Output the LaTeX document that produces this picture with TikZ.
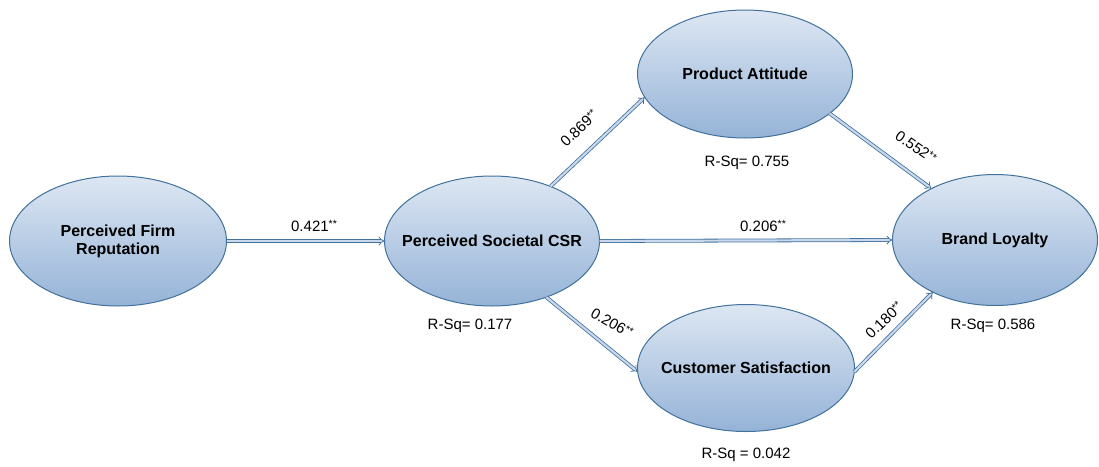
\documentclass[tikz,border=0pt]{standalone}
\usepackage{fontspec}
\setmainfont{Liberation Sans}
\usetikzlibrary{shapes.geometric,arrows.meta}
\definecolor{edgec}{HTML}{41719C}
\definecolor{topc}{HTML}{DDE7F3}
\definecolor{botc}{HTML}{95B3D7}
\definecolor{shaftc}{HTML}{C9D8EC}
\tikzset{
  construct/.style={ellipse, draw=edgec, line width=1pt, top color=topc, bottom color=botc,
    inner sep=0pt, outer sep=0pt},
  ctext/.style={font=\fontsize{16}{18}\selectfont\bfseries, align=center, inner sep=0pt},
  path/.style={draw=edgec, line width=0.8pt, double=shaftc, double distance=2.2pt, -{Implies}},
  coef/.style={font=\fontsize{15}{17}\selectfont},
  rsq/.style={font=\fontsize{15}{17}\selectfont}
}
\newcommand{\st}{\raisebox{0.45ex}{\fontsize{10.5}{10}\selectfont **}}
\begin{document}
\begin{tikzpicture}[x=1pt,y=-1pt]
\useasboundingbox (0,0) rectangle (1099,466);
\node[construct, minimum width=217, minimum height=130, label={[ctext]center:{Perceived Firm\\Reputation}}] (pfr) at (118,241) {};
\node[construct, minimum width=215, minimum height=130, label={[ctext]center:Perceived Societal CSR}] (csr) at (492,241) {};
\node[construct, minimum width=215, minimum height=128, label={[ctext]center:Product Attitude}] (pa) at (745,74) {};
\node[construct, minimum width=217, minimum height=127, label={[ctext]center:Customer Satisfaction}] (cs) at (746,368) {};
\node[construct, minimum width=205, minimum height=131, label={[ctext]center:Brand Loyalty}] (bl) at (995,240) {};

\draw[path] (pfr.east) -- (csr.west);
\draw[path] (csr.east) -- (bl.west);
\draw[path] (csr.43) -- (pa.193);
\draw[path] (pa.-25) -- (bl.141);
\draw[path] (csr.-46) -- (cs.182);
\draw[path] (cs.-2) -- (bl.220);

\node[coef] (c1) at (314,226) {0.421\st};
\node[coef] (c2) at (763,226) {0.206\st};
\node[coef, rotate=44] (c3) at (579,128) {0.869\st};
\node[coef, rotate=-35] (c4) at (916,147) {0.552\st};
\node[coef, rotate=-30] (c5) at (612,323) {0.206\st};
\node[coef, rotate=44] (c6) at (884,320) {0.180\st};

\node[rsq] (r1) at (747,163) {R-Sq= 0.755};
\node[rsq] (r2) at (470,326) {R-Sq= 0.177};
\node[rsq] (r3) at (993,326) {R-Sq= 0.586};
\node[rsq] (r4) at (746,455) {R-Sq = 0.042};
\end{tikzpicture}
\end{document}
